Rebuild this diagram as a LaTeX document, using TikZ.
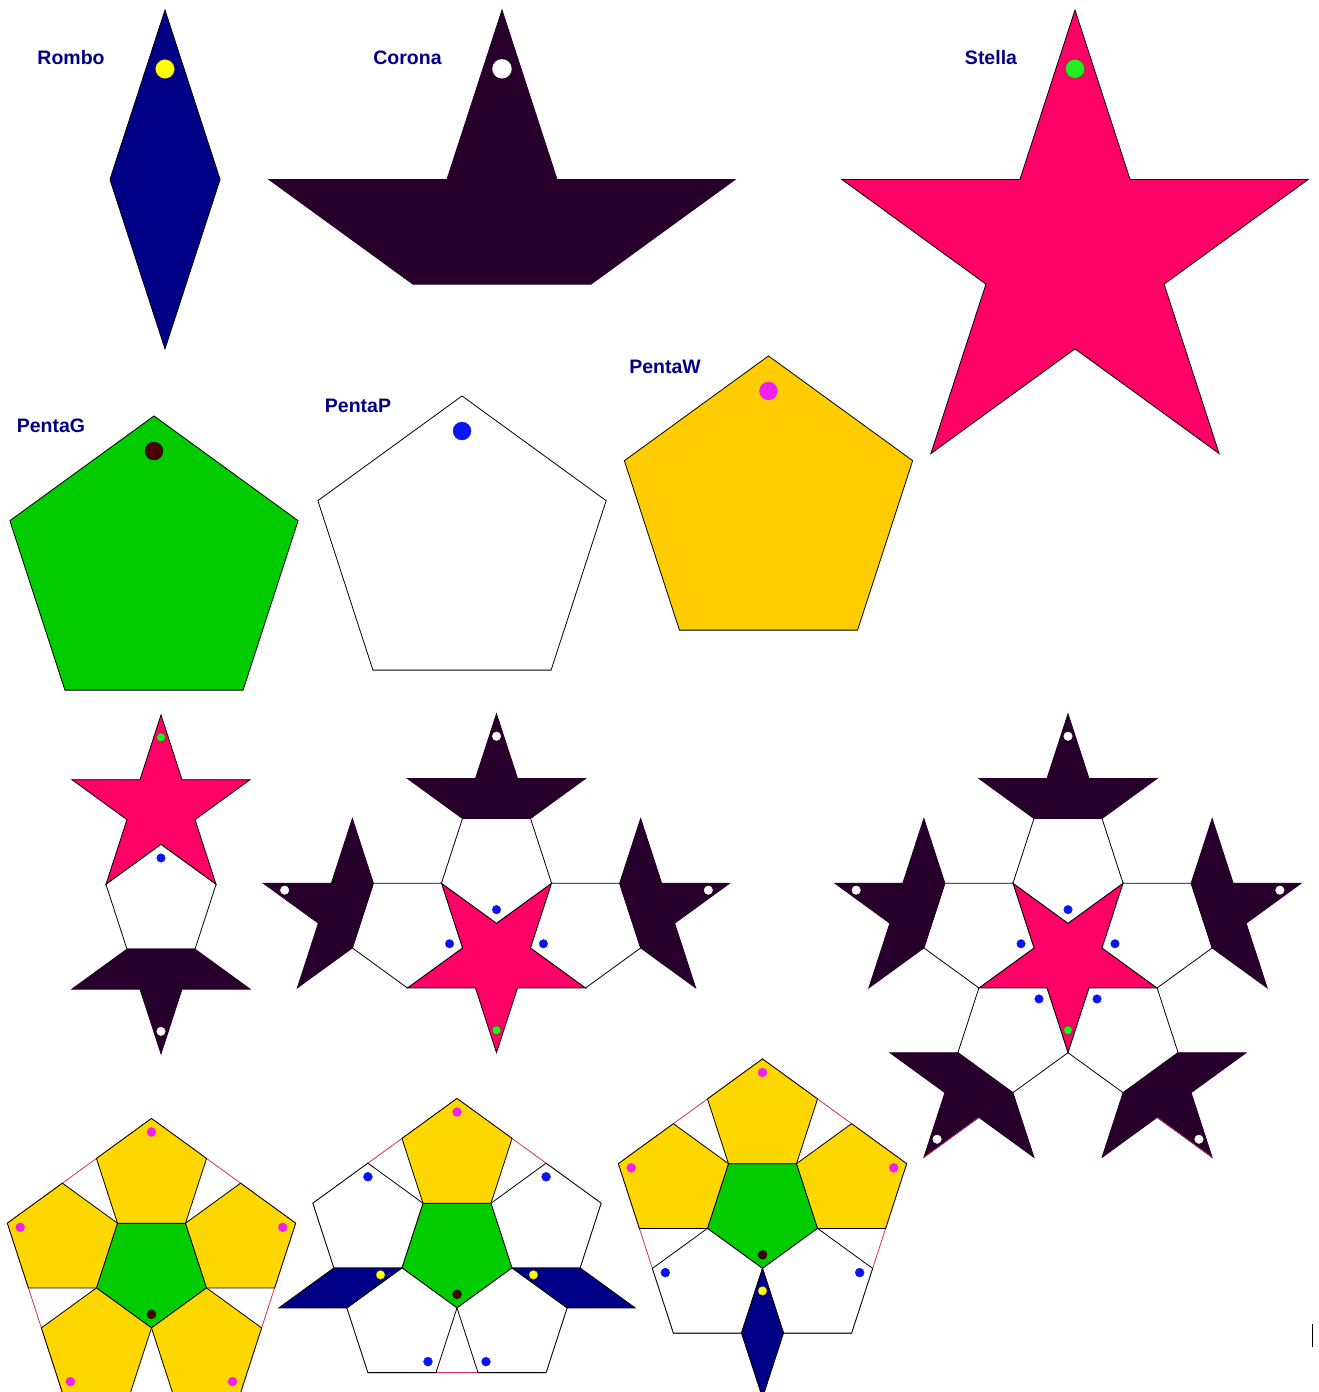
\documentclass[tikz,border=0pt]{standalone}
\usepackage{fontspec}
\setmainfont{Liberation Sans}
\usepackage{xcolor}
\usepackage{tikz}

\definecolor{navy}{HTML}{000087}
\definecolor{coronacol}{HTML}{26002A}
\definecolor{stellacol}{HTML}{FF0066}
\definecolor{verde}{HTML}{00CC00}
\definecolor{oro}{HTML}{FFCC00}
\definecolor{giallo}{HTML}{FFD700}
\definecolor{rosso}{HTML}{D8305A}
\definecolor{dotY}{HTML}{FFFF00}
\definecolor{dotG}{HTML}{22EE22}
\definecolor{dotB}{HTML}{0A14F0}
\definecolor{dotM}{HTML}{F020F0}
\definecolor{dotK}{HTML}{4A0000}

% small tiles (px)
\newcommand{\lato}{68.05}
\newcommand{\rstar}{93.66}
\newcommand{\rinner}{35.78}
\newcommand{\rpent}{57.89}
\newcommand{\dpent}{93.67}
\newcommand{\dboat}{151.56}

\newcommand{\pentagono}[4]{%
  \begin{scope}[shift={#1}]
    \draw[#4] (#2:#3) -- (#2+72:#3) -- (#2+144:#3) -- (#2+216:#3) -- (#2+288:#3) -- cycle;
  \end{scope}}
\newcommand{\stella}[4]{%
  \begin{scope}[shift={#1}]
    \draw[#4] (#2:#3) -- (#2+36:0.381966*#3) -- (#2+72:#3) -- (#2+108:0.381966*#3)
      -- (#2+144:#3) -- (#2+180:0.381966*#3) -- (#2+216:#3) -- (#2+252:0.381966*#3)
      -- (#2+288:#3) -- (#2+324:0.381966*#3) -- cycle;
  \end{scope}}
\newcommand{\corona}[4]{%
  \begin{scope}[shift={#1}]
    \draw[#4] (#2:#3) -- (#2+36:0.381966*#3) -- (#2+72:#3) -- (#2+108:0.381966*#3)
      -- (#2+252:0.381966*#3) -- (#2+288:#3) -- (#2+324:0.381966*#3) -- cycle;
  \end{scope}}
\newcommand{\rombo}[4]{%
  \begin{scope}[shift={#1}]
    \draw[#4] (0,0) -- (#2-18:#3) -- (#2:1.902113*#3) -- (#2+18:#3) -- cycle;
  \end{scope}}
\newcommand{\punto}[5]{\filldraw[#5] #1 ++(#2:#3) circle (#4);}

\begin{document}
\begin{tikzpicture}[
    x=1pt, y=-1pt,
    tile/.style={draw=black, line width=0.8pt},
    romboS/.style={tile, fill=navy},
    coronaS/.style={tile, draw=coronacol, fill=coronacol},
    stellaS/.style={tile, fill=stellacol},
    pG/.style={tile, fill=verde},
    pP/.style={tile, fill=white},
    pW/.style={tile, fill=oro},
    pY/.style={tile, fill=giallo},
    bordo/.style={draw=rosso, line width=0.8pt},
    lbl/.style={text=navy, font=\fontsize{19.5}{22}\selectfont\bfseries, inner sep=0pt},
    dY/.style={fill=dotY, draw=olive!80!black, line width=0.3pt},
    dW/.style={fill=white, draw=white, line width=0.3pt},
    dG/.style={fill=dotG, draw=green!50!black, line width=0.3pt},
    dB/.style={fill=dotB, draw=dotB, line width=0.3pt},
    dM/.style={fill=dotM, draw=dotM, line width=0.3pt},
    dK/.style={fill=dotK, draw=black, line width=0.3pt}
  ]
    \useasboundingbox (0,0) rectangle (1319,1392);
    \fill[white] (0,0) rectangle (1319,1392);

    % the six tiles
    \rombo{(165,10)}{90}{178.2}{romboS}
    \punto{(165,10)}{90}{59}{9.5}{dY}
    \corona{(502,255.2)}{270}{245.2}{coronaS}
    \punto{(502,255.2)}{270}{186.4}{9.5}{dW}
    \stella{(1075,255.2)}{270}{245.2}{stellaS}
    \punto{(1075,255.2)}{270}{186.4}{9.5}{dG}
    \pentagono{(154,567.5)}{270}{151.55}{pG}
    \punto{(154,567.5)}{270}{116.5}{9}{dK}
    \pentagono{(462,547.5)}{270}{151.55}{pP}
    \punto{(462,547.5)}{270}{116.5}{9}{dB}
    \pentagono{(768.5,507.5)}{270}{151.55}{pW}
    \punto{(768.5,507.5)}{270}{116.5}{9}{dM}

    \node[lbl] (lblRombo)  at (71,58)    {Rombo};
    \node[lbl] (lblCorona) at (407.5,58) {Corona};
    \node[lbl] (lblStella) at (991,58)   {Stella};
    \node[lbl] (lblPentaG) at (51,426)   {PentaG};
    \node[lbl] (lblPentaP) at (358,406)  {PentaP};
    \node[lbl] (lblPentaW) at (665,367)  {PentaW};

    % star, pentagon and crown
    \begin{scope}[shift={(161,808.6)}]
      \stella{(0,0)}{270}{\rstar}{stellaS}
      \pentagono{(90:\dpent)}{270}{\rpent}{pP}
      \corona{(90:\dboat)}{90}{\rstar}{coronaS}
      \punto{(0,0)}{270}{71.2}{4.3}{dG}
      \punto{(90:\dpent)}{270}{44.3}{4.3}{dB}
      \punto{(90:\dboat)}{90}{71.2}{4.3}{dW}
    \end{scope}

    % star with three crowns
    \begin{scope}[shift={(496.5,959)}]
      \stella{(0,0)}{90}{\rstar}{stellaS}
      \foreach \d in {270,198,342}{
        \pentagono{(\d:\dpent)}{\d+180}{\rpent}{pP}
        \corona{(\d:\dboat)}{\d}{\rstar}{coronaS}
        \punto{(\d:\dpent)}{\d+180}{44.3}{4.3}{dB}
        \punto{(\d:\dboat)}{\d}{71.2}{4.3}{dW}
      }
      \punto{(0,0)}{90}{71.2}{4.3}{dG}
    \end{scope}

    % star with five crowns
    \begin{scope}[shift={(1068,959)}]
      \stella{(0,0)}{90}{\rstar}{stellaS}
      \foreach \d in {270,198,342,126,54}{
        \pentagono{(\d:\dpent)}{\d+180}{\rpent}{pP}
        \corona{(\d:\dboat)}{\d}{\rstar}{coronaS}
        \punto{(\d:\dpent)}{\d+180}{44.3}{4.3}{dB}
        \punto{(\d:\dboat)}{\d}{71.2}{4.3}{dW}
      }
      \foreach \d in {126,54}{
        \begin{scope}[shift={(\d:\dboat)}]
          \draw[bordo, line width=0.6pt] (\d:\rstar) -- (90:\rinner);
        \end{scope}
      }
      \punto{(0,0)}{90}{71.2}{4.3}{dG}
    \end{scope}

    % five yellow pentagons
    \begin{scope}[shift={(151.5,1270)}]
      \pentagono{(0,0)}{270}{\dboat}{bordo}
      \pentagono{(0,0)}{90}{\rpent}{pG}
      \foreach \d in {270,198,342,126,54}{
        \pentagono{(\d:\dpent)}{270}{\rpent}{pY}
        \punto{(\d:\dpent)}{\d}{44.3}{4.5}{dM}
      }
      \punto{(0,0)}{90}{44.3}{4.5}{dK}
    \end{scope}

    % one yellow, four white, two rhombs
    \begin{scope}[shift={(457,1250)}]
      \pentagono{(0,0)}{270}{\dboat}{bordo}
      \pentagono{(0,0)}{90}{\rpent}{pG}
      \pentagono{(270:\dpent)}{270}{\rpent}{pY}
      \punto{(270:\dpent)}{270}{44.3}{4.5}{dM}
      \foreach \d/\v in {198/270,342/270,126/54,54/126}{
        \pentagono{(\d:\dpent)}{270}{\rpent}{pP}
        \punto{(\d:\dpent)}{\v}{44.3}{4.5}{dB}
      }
      \foreach \d in {162,18}{
        \rombo{(\d:\rpent)}{\d}{\lato}{romboS}
        \punto{(\d:\rpent)}{\d}{22.5}{4.5}{dY}
      }
      \punto{(0,0)}{90}{44.3}{4.5}{dK}
    \end{scope}

    % three yellow, two white, one rhomb
    \begin{scope}[shift={(762.5,1210.5)}]
      \pentagono{(0,0)}{270}{\dboat}{bordo}
      \pentagono{(0,0)}{90}{\rpent}{pG}
      \foreach \d in {270,198,342}{
        \pentagono{(\d:\dpent)}{270}{\rpent}{pY}
        \punto{(\d:\dpent)}{\d}{44.3}{4.5}{dM}
      }
      \foreach \d/\v in {126/198,54/342}{
        \pentagono{(\d:\dpent)}{270}{\rpent}{pP}
        \punto{(\d:\dpent)}{\v}{44.3}{4.5}{dB}
      }
      \rombo{(90:\rpent)}{90}{\lato}{romboS}
      \punto{(90:\rpent)}{90}{22.5}{4.5}{dY}
      \punto{(0,0)}{90}{44.3}{4.5}{dK}
    \end{scope}

    \draw[line width=1.4pt] (1312.5,1324) -- (1312.5,1347);
\end{tikzpicture}
\end{document}
